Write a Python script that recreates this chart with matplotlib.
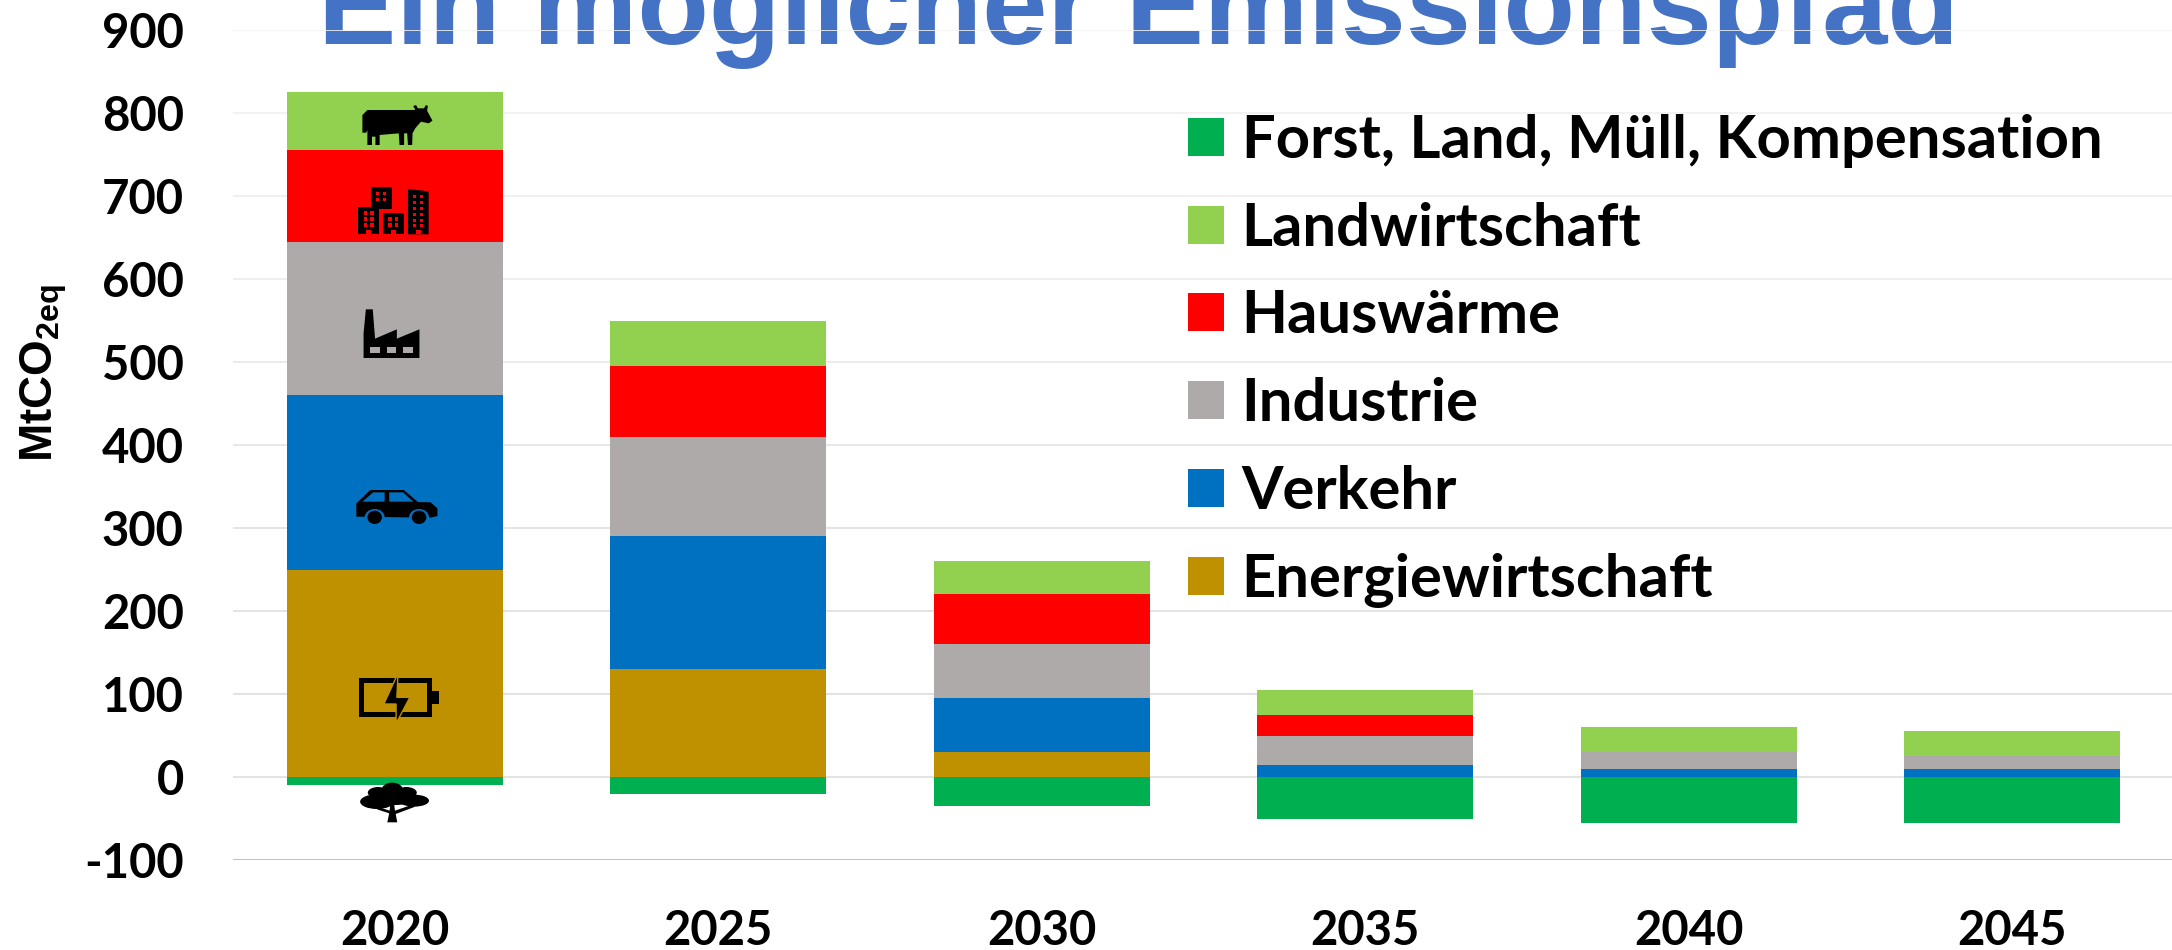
import matplotlib
matplotlib.use('Agg')
import matplotlib.pyplot as plt
from matplotlib.patches import Polygon, Rectangle, Ellipse

plt.rcParams['font.family'] = ['Lato', 'DejaVu Sans']
plt.rcParams['mathtext.fontset'] = 'custom'
plt.rcParams['mathtext.bf'] = 'Liberation Sans:bold'
plt.rcParams['axes.unicode_minus'] = False

years = ['2020', '2025', '2030', '2035', '2040', '2045']
energie = [250, 130, 30, 0, 0, 0]
verkehr = [210, 160, 65, 15, 10, 10]
industrie = [185, 120, 65, 35, 20, 15]
hauswaerme = [110, 85, 60, 25, 0, 0]
landwirtschaft = [70, 55, 40, 30, 30, 30]
forst = [-10, -20, -35, -50, -55, -55]

y_ticks = [-100, 0, 100, 200, 300, 400, 500, 600, 700, 800, 900]
grid_colors = ['#BFBFBF', '#DEDEDE', '#DEDEDE', '#DEDEDE', '#E0E0E0', '#E4E4E4',
               '#E8E8E8', '#ECECEC', '#EEEEEE', '#F0F0F0', '#F2F2F2']

GREEN = '#00B050'
LIGHT = '#92D050'
RED = '#FF0000'
GREY = '#AEAAAA'
BLUE = '#0070C0'
GOLD = '#BF9000'

W, H = 2172, 950
fig = plt.figure(figsize=(W / 100, H / 100), dpi=100)
ax = fig.add_axes([233 / W, (H - 860) / H, 1941 / W, 830 / H])
# overlay in pixel coordinates for the title, legend position and icons
ov = fig.add_axes([0, 0, 1, 1], zorder=5)
ov.set_xlim(0, W)
ov.set_ylim(H, 0)
ov.axis('off')

x = list(range(len(years)))
bottom = [0] * len(years)
handles = {}
for name, vals, col in [('Energiewirtschaft', energie, GOLD), ('Verkehr', verkehr, BLUE),
                        ('Industrie', industrie, GREY), ('Hauswärme', hauswaerme, RED),
                        ('Landwirtschaft', landwirtschaft, LIGHT)]:
    handles[name] = ax.bar(x, vals, 0.667, bottom=bottom, color=col, zorder=3)
    bottom = [b + v for b, v in zip(bottom, vals)]
handles['Forst, Land, Müll, Kompensation'] = ax.bar(x, forst, 0.667, color=GREEN, zorder=3)

ax.set_xlim(-0.5, 5.5)
ax.set_ylim(-100, 900)
ax.set_yticks(y_ticks)
ax.set_xticks(x)
ax.set_xticklabels(years)
ax.tick_params(axis='both', length=0, labelsize=34)
ax.tick_params(axis='y', pad=35.5)
ax.tick_params(axis='x', pad=35)
for lab in ax.get_xticklabels() + ax.get_yticklabels():
    lab.set_fontweight('bold')
for side in ['top', 'right', 'left', 'bottom']:
    ax.spines[side].set_visible(False)
for val, col in zip(y_ticks, grid_colors):
    ax.axhline(val, color=col, linewidth=1.4 if val == -100 else 1.2, zorder=2)

ax.text(318, 44, 'Ein möglicher Emissionspfad', transform=ov.transData, color='#4472C4',
        family='Liberation Sans', fontweight='bold', fontsize=84.4, va='baseline', ha='left',
        zorder=1, clip_on=False)

ov.text(44, 373, r'MtCO$_{\mathbf{2eq}}$', rotation=90, ha='center', va='center',
        family='Liberation Sans', fontweight='bold', fontsize=33)

order = ['Forst, Land, Müll, Kompensation', 'Landwirtschaft', 'Hauswärme',
         'Industrie', 'Verkehr', 'Energiewirtschaft']
leg = ov.legend([handles[n] for n in order], order, loc='upper left',
                bbox_to_anchor=(1188 / W, 1 - 114 / H), bbox_transform=fig.transFigure,
                frameon=False, borderpad=0, borderaxespad=0,
                handlelength=0.6, handleheight=0.6, handletextpad=0.3, labelspacing=0.565,
                prop={'family': 'Lato', 'weight': 'bold', 'size': 43})


def P(pts, oy=0):
    return [(px / 2.613, oy + py / 3) for px, py in pts]


def poly(pts, col='black', oy=0, **kw):
    ov.add_patch(Polygon(P(pts, oy), closed=True, facecolor=col, edgecolor=kw.pop('ec', 'none'), **kw))


def rect(x0, y0, x1, y1, col='black', oy=0):
    ov.add_patch(Rectangle((x0 / 2.613, oy + y0 / 3), (x1 - x0) / 2.613, (y1 - y0) / 3,
                           facecolor=col, edgecolor='none'))


def ell(cx, cy, w, h, col='black', oy=0):
    ov.add_patch(Ellipse((cx / 2.613, oy + cy / 3), w / 2.613, h / 3, facecolor=col, edgecolor='none'))


# cow
poly([(947, 398), (947, 345), (960, 330), (1085, 330), (1080, 318), (1087, 315), (1092, 325),
      (1108, 325), (1113, 315), (1118, 318), (1116, 332), (1130, 362), (1120, 370), (1100, 365),
      (1085, 385), (1078, 400), (1077, 435), (1066, 435), (1064, 400), (1056, 400), (1056, 435),
      (1044, 435), (1042, 400), (992, 405), (992, 435), (981, 435), (981, 410), (972, 410),
      (972, 435), (960, 435), (960, 390), (957, 398)])

# buildings
rect(936, 622, 990, 703)
rect(969, 562, 1023, 628)
rect(1002, 640, 1056, 703)
poly([(1066, 567), (1120, 574), (1120, 703), (1066, 703)])
for wx, wy_list in [(950, [634, 652, 670]), (968, [634, 652, 670]),
                    (1014, [652, 670]), (1032, [652, 670]),
                    (982, [576, 594]), (1000, [576, 594]),
                    (1079, [584, 602, 620, 638, 656, 672]), (1097, [584, 602, 620, 638, 656, 672])]:
    for wy in wy_list:
        rect(wx, wy, wx + 9, wy + 10, RED)
for dx in [957, 1022, 1086]:
    rect(dx, 690, dx + 13, 703, RED)

# factory
poly([(950, 1074), (950, 1000), (956, 928), (974, 928), (980, 1016), (1037, 988), (1037, 1016),
      (1096, 988), (1096, 1074)])
for wx in [968, 1011, 1053]:
    rect(wx, 1041, wx + 25, 1059, GREY)

# car
poly([(931, 70), (968, 30), (1055, 30), (1092, 66), (1125, 67), (1143, 85), (1143, 108),
      (1125, 113), (931, 110)], oy=480)
poly([(947, 65), (975, 37), (1005, 37), (1005, 65)], BLUE, oy=480)
poly([(1017, 37), (1053, 37), (1080, 65), (1017, 65)], BLUE, oy=480)
for cx in [979, 1095]:
    ell(cx, 112, 52, 50, BLUE, oy=480)
    ell(cx, 112, 38, 40, 'black', oy=480)

# battery
rect(937, 595, 1128, 710, oy=480)
rect(950, 608, 1115, 696, GOLD, oy=480)
rect(1128, 632, 1147, 672, oy=480)
poly([(1040, 580), (1003, 672), (1035, 672), (1035, 730), (1071, 652), (1037, 652)],
     oy=480, ec=GOLD, linewidth=1)

# tree
ell(1025, 930, 56, 44, oy=480)
ell(988, 938, 54, 34, oy=480)
ell(1062, 938, 54, 34, oy=480)
ell(985, 965, 88, 44, oy=480)
ell(1082, 962, 78, 36, oy=480)
ell(1030, 958, 120, 34, oy=480)
poly([(1012, 1027), (1017, 1000), (985, 988), (992, 982), (1018, 992), (1020, 972), (1030, 972),
      (1032, 992), (1075, 975), (1085, 980), (1034, 1002), (1038, 1027)], oy=480)

fig.savefig('out.png', dpi=100)
